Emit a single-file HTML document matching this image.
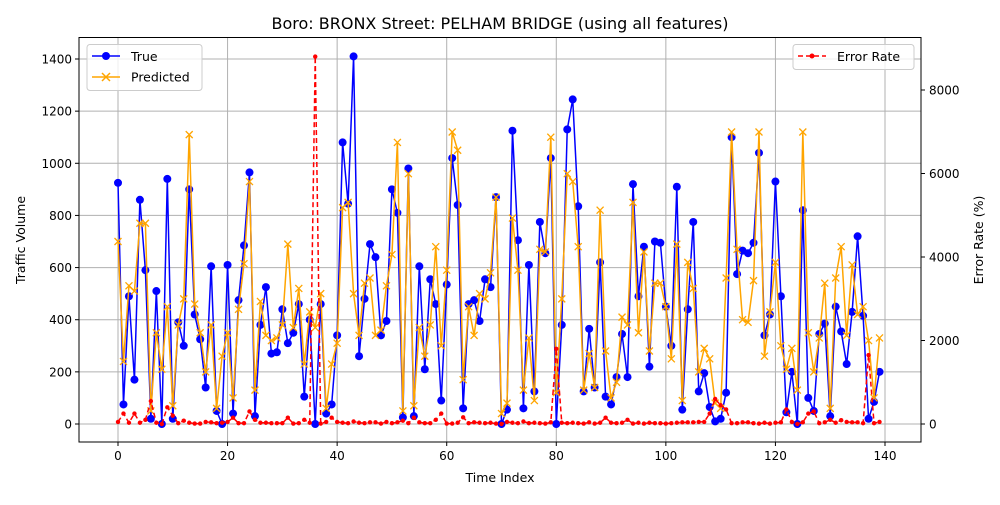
<!DOCTYPE html>
<html><head><meta charset="utf-8"><style>
body{margin:0;background:#fff}
svg{font-family:"DejaVu Sans","Liberation Sans",sans-serif}
</style></head><body>
<svg id="chart" width="1000" height="500" viewBox="0 0 1000 500" xmlns="http://www.w3.org/2000/svg">
<rect width="1000" height="500" fill="#fff"/>
<text x="500" y="29" font-size="16" text-anchor="middle">Boro: BRONX Street: PELHAM BRIDGE (using all features)</text>
<g id="grid"></g>
<g id="axes"></g>
<g id="series"></g>
<rect x="79" y="37.5" width="842" height="404.5" fill="none" stroke="#000" stroke-width="1"/>
<text x="500" y="482" font-size="12.5" text-anchor="middle">Time Index</text>
<text transform="translate(25,240) rotate(-90)" font-size="12.5" text-anchor="middle">Traffic Volume</text>
<text transform="translate(983,240) rotate(-90)" font-size="12.5" text-anchor="middle">Error Rate (%)</text>
<g>
<rect x="87" y="44.5" width="115" height="46" fill="#fff" fill-opacity="0.8" stroke="#ccc" rx="3"/>
<line x1="92" y1="56" x2="120" y2="56" stroke="#0000ff" stroke-width="1.5"/><circle cx="106" cy="56" r="4" fill="#0000ff"/>
<text x="131" y="61" font-size="12.5">True</text>
<line x1="92" y1="77" x2="120" y2="77" stroke="#ffa500" stroke-width="1.5"/>
<path d="M102,73 L110,81 M102,81 L110,73" stroke="#ffa500" stroke-width="1.5"/>
<text x="131" y="81.5" font-size="12.5">Predicted</text>
</g>
<g>
<rect x="793" y="44.5" width="121" height="25" fill="#fff" fill-opacity="0.8" stroke="#ccc" rx="3"/>
<line x1="798" y1="56" x2="826" y2="56" stroke="#ff0000" stroke-width="1.5" stroke-dasharray="5,3"/><circle cx="812" cy="56" r="2.5" fill="#ff0000"/>
<text x="837" y="61" font-size="12.5">Error Rate</text>
</g>
</svg>
<script>
const trueVals=[925,75,490,170,860,590,20,510,0,940,20,390,300,900,420,325,140,605,50,0,610,40,475,685,965,30,380,525,270,275,440,310,350,460,105,400,0,460,40,75,340,1080,845,1410,260,480,690,640,340,395,900,810,25,980,30,605,210,555,460,90,535,1020,840,60,460,475,395,555,525,870,0,55,1125,705,60,610,125,775,655,1020,0,380,1130,1245,835,125,365,140,620,105,75,180,345,180,920,490,680,220,700,695,450,300,910,55,440,775,125,195,65,10,20,120,1100,575,665,655,695,1040,340,420,930,490,45,200,0,820,100,50,345,385,30,450,355,230,430,720,415,20,85,200];
const predVals=[700,240,530,510,770,770,50,350,210,450,70,380,480,1110,460,350,200,380,60,260,350,100,440,615,930,130,470,340,320,330,380,690,370,520,230,430,370,500,60,230,310,830,850,500,340,540,560,340,360,530,650,1080,50,960,70,370,260,380,680,300,590,1120,1050,170,450,340,500,480,580,870,40,80,790,590,130,330,90,670,660,1100,120,480,960,930,680,130,270,140,820,280,100,160,410,380,850,350,660,280,540,540,450,250,690,90,620,520,200,290,250,80,60,560,1120,670,400,390,550,1120,260,430,620,300,210,290,130,1120,350,200,330,540,60,560,680,340,610,420,450,320,100,330];
const errVals=[50,250,30,250,30,100,550,30,0,400,200,20,80,30,10,10,50,40,20,30,50,150,20,20,300,100,30,30,20,20,20,150,10,20,100,30,8800,10,50,150,50,30,20,60,30,20,40,40,10,50,20,40,80,20,150,40,20,20,100,250,10,10,30,160,20,40,30,20,30,10,0,50,30,20,60,20,30,20,10,40,1800,30,20,30,20,10,40,10,30,150,30,20,30,100,10,30,10,30,20,20,10,20,30,40,40,40,50,50,250,600,450,350,20,20,40,40,20,10,30,10,30,40,350,50,0,40,250,300,20,40,100,30,90,50,40,40,20,1650,20,50];
const xTicks=[0,20,40,60,80,100,120,140];
const yTicks=[0,200,400,600,800,1000,1200,1400];
const y2Ticks=[0,2000,4000,6000,8000];
const NS="http://www.w3.org/2000/svg";
const X=v=>118+v*(767/140);
const Y=v=>424-v*(365/1400);
const Y2=v=>424-v*(334/8000);
function mk(tag,attrs,parent){const e=document.createElementNS(NS,tag);for(const k in attrs)e.setAttribute(k,attrs[k]);parent.appendChild(e);return e;}
const grid=document.getElementById('grid'),axes=document.getElementById('axes'),ser=document.getElementById('series');
xTicks.forEach(t=>{const x=X(t);
 const g=mk('line',{x1:x,x2:x,y1:37.5,y2:442,stroke:'#b0b0b0','stroke-width':1},grid);
 
 
 mk('line',{x1:x,x2:x,y1:442,y2:446,stroke:'#000'},axes);
 const l=mk('text',{x:x,y:460,'font-size':12,'text-anchor':'middle'},axes);l.textContent=t;
 
 });
yTicks.forEach(t=>{const y=Y(t);
 const g=mk('line',{x1:79,x2:921,y1:y,y2:y,stroke:'#b0b0b0','stroke-width':1},grid);
 
 
 mk('line',{x1:75,x2:79,y1:y,y2:y,stroke:'#000'},axes);
 const l=mk('text',{x:72,y:y+4.5,'font-size':12,'text-anchor':'end'},axes);l.textContent=t;
 
 });
y2Ticks.forEach(t=>{const y=Y2(t);
 mk('line',{x1:921,x2:925,y1:y,y2:y,stroke:'#000'},axes);
 const l=mk('text',{x:929,y:y+4.5,'font-size':12},axes);l.textContent=t;
 
 });
function pts(arr,fy){return arr.map((v,i)=>X(i).toFixed(2)+','+fy(v).toFixed(2)).join(' ');}
const lt=mk('polyline',{points:pts(trueVals,Y),fill:'none',stroke:'#0000ff','stroke-width':1.5},ser);


trueVals.forEach((v,i)=>{const c=mk('circle',{cx:X(i),cy:Y(v),r:4,fill:'#0000ff'},ser);
 
 });
const lp=mk('polyline',{points:pts(predVals,Y),fill:'none',stroke:'#ffa500','stroke-width':1.5},ser);


predVals.forEach((v,i)=>{const x=X(i),y=Y(v);
 const p=mk('path',{d:`M${x-3.5},${y-3.5}L${x+3.5},${y+3.5}M${x-3.5},${y+3.5}L${x+3.5},${y-3.5}`,stroke:'#ffa500','stroke-width':1.3},ser);
 
 });
const le=mk('polyline',{points:pts(errVals,Y2),fill:'none',stroke:'#ff0000','stroke-width':1.5,'stroke-dasharray':'5,3'},ser);


errVals.forEach((v,i)=>{const c=mk('circle',{cx:X(i),cy:Y2(v),r:2.2,fill:'#ff0000'},ser);
 
 });
</script>
</body></html>
